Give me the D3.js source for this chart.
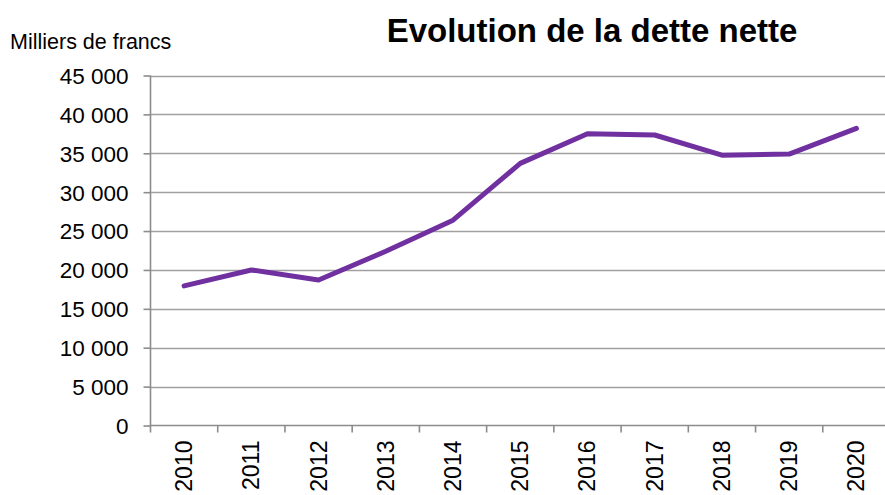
<!DOCTYPE html>
<html>
<head>
  <meta charset="utf-8">
  <script src="https://d3js.org/d3.v7.min.js"></script>
  <style>
    body { margin: 0; background: #fff; }
    svg text { font-family: "Liberation Sans", Arial, sans-serif; fill: #000; }
  </style>
</head>
<body>
  <svg id="chart" width="885" height="495"></svg>
  <script>
    // dette nette, milliers de francs
    const years = ["2010", "2011", "2012", "2013", "2014", "2015", "2016", "2017", "2018", "2019", "2020"];
    const dette = [17950, 20000, 18700, 22400, 26400, 33700, 37500, 37350, 34750, 34900, 38200];
    const yTicks = [0, 5000, 10000, 15000, 20000, 25000, 30000, 35000, 40000, 45000];

    const svg = d3.select("#chart");
    const plotL = 150.5, plotR = 890, plotT = 75.5, plotB = 425.5;

    const x = d3.scaleBand().domain(years).range([plotL, plotR]);
    const y = d3.scaleLinear().domain([0, 45000]).range([plotB, plotT]);
    const fmt = d => d3.format(",")(d).replace(/,/g, " ");

    // grid
    svg.append("g").selectAll("line")
      .data(yTicks.filter(d => d > 0))
      .enter().append("line")
      .attr("x1", plotL).attr("x2", 885)
      .attr("y1", d => Math.round(y(d)) + 0.5).attr("y2", d => Math.round(y(d)) + 0.5)
      .attr("stroke", "#a0a0a0").attr("stroke-width", 1.6);

    // y axis
    const yAxis = svg.append("g")
      .attr("transform", `translate(${plotL},0)`)
      .call(d3.axisLeft(y).tickValues(yTicks).tickFormat(fmt).tickSize(7).tickPadding(15));
    yAxis.select(".domain").remove();
    yAxis.selectAll(".tick line").attr("stroke", "#8c8c8c").attr("stroke-width", 1.6);
    yAxis.selectAll(".tick text").attr("font-size", 22.5).attr("dy", "0.35em");
    svg.append("line")
      .attr("x1", plotL).attr("x2", plotL).attr("y1", plotT).attr("y2", plotB + 7)
      .attr("stroke", "#8c8c8c").attr("stroke-width", 1.6);

    // x axis
    const xAxis = svg.append("g")
      .attr("transform", `translate(0,${plotB})`);
    xAxis.append("line")
      .attr("x1", plotL).attr("x2", 885).attr("y1", 0).attr("y2", 0)
      .attr("stroke", "#8c8c8c").attr("stroke-width", 1.6);
    xAxis.selectAll("line.tk")
      .data(years)
      .enter().append("line")
      .attr("class", "tk")
      .attr("x1", d => x(d) + x.bandwidth()).attr("x2", d => x(d) + x.bandwidth())
      .attr("y1", 0).attr("y2", 7)
      .attr("stroke", "#8c8c8c").attr("stroke-width", 1.6);
    xAxis.selectAll("text")
      .data(years)
      .enter().append("text")
      .attr("transform", d => `translate(${x(d) + x.bandwidth() / 2 + 8},15) rotate(-90)`)
      .attr("text-anchor", "end")
      .attr("font-size", 23)
      .text(d => d);

    // line
    const line = d3.line()
      .x((d, i) => x(years[i]) + x.bandwidth() / 2)
      .y(d => y(d));
    svg.append("path")
      .datum(dette)
      .attr("d", line)
      .attr("fill", "none")
      .attr("stroke", "#7030a0")
      .attr("stroke-width", 5)
      .attr("stroke-linecap", "round")
      .attr("stroke-linejoin", "round");

    // titles
    svg.append("text")
      .attr("x", 592).attr("y", 42)
      .attr("text-anchor", "middle")
      .attr("font-size", 33).attr("font-weight", "bold")
      .text("Evolution de la dette nette");
    svg.append("text")
      .attr("x", 10).attr("y", 49)
      .attr("font-size", 21.5)
      .text("Milliers de francs");
  </script>
</body>
</html>
